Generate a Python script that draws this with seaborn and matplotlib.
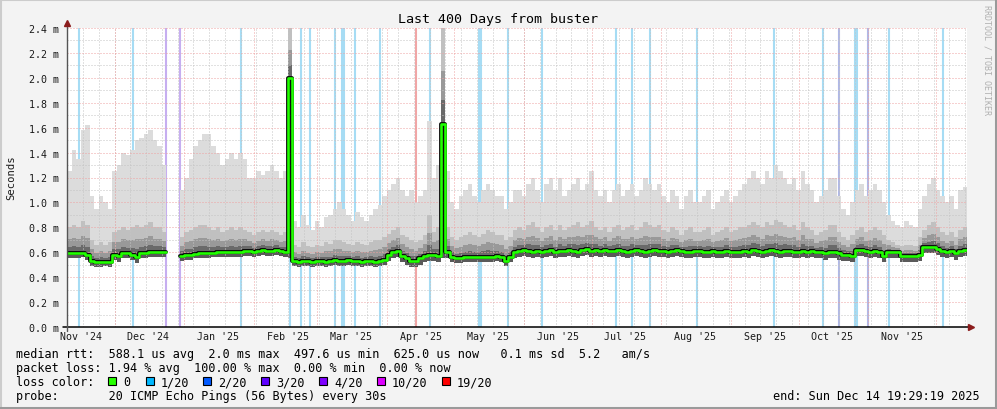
import numpy as np
import pandas as pd
import seaborn as sns
import matplotlib.pyplot as plt
from matplotlib.patches import Rectangle
from matplotlib.lines import Line2D

sns.set_theme(style="white")
plt.rcParams['font.family'] = ['DejaVu Sans Mono']

graph_start = pd.Timestamp('2024-11-09 19:29:19')
graph_end = pd.Timestamp('2025-12-14 19:29:19')

# one sample every 2 days from 2024-11-10, values in ms
nan = np.nan
median_ms = [
    0.59, 0.59, 0.59, 0.59, 0.58, 0.53, 0.52, 0.52, 0.52, 0.52,
    0.58, 0.57, 0.59, 0.59, 0.58, 0.56, 0.59, 0.59, 0.60, 0.60,
    0.60, 0.60, nan, nan, nan, 0.57, 0.58, 0.58, 0.585, 0.59,
    0.59, 0.59, 0.595, 0.60, 0.60, 0.60, 0.60, 0.60, 0.60, 0.61,
    0.61, 0.60, 0.61, 0.62, 0.61, 0.61, 0.62, 0.61, 0.60, 2.00,
    0.53, 0.52, 0.53, 0.53, 0.52, 0.53, 0.53, 0.52, 0.53, 0.54,
    0.53, 0.53, 0.54, 0.53, 0.53, 0.52, 0.53, 0.53, 0.52, 0.53,
    0.54, 0.58, 0.60, 0.61, 0.57, 0.55, 0.53, 0.53, 0.55, 0.57,
    0.58, 0.58, 0.57, 1.63, 0.60, 0.56, 0.55, 0.555, 0.56, 0.56,
    0.56, 0.56, 0.565, 0.56, 0.565, 0.57, 0.56, 0.53, 0.56, 0.60,
    0.61, 0.62, 0.61, 0.60, 0.61, 0.60, 0.61, 0.62, 0.60, 0.61,
    0.61, 0.62, 0.61, 0.60, 0.62, 0.63, 0.61, 0.62, 0.61, 0.62,
    0.61, 0.61, 0.62, 0.61, 0.60, 0.61, 0.62, 0.61, 0.60, 0.61,
    0.62, 0.61, 0.61, 0.60, 0.61, 0.62, 0.61, 0.60, 0.60, 0.61,
    0.61, 0.60, 0.60, 0.61, 0.60, 0.60, 0.61, 0.60, 0.60, 0.60,
    0.61, 0.60, 0.62, 0.61, 0.60, 0.61, 0.62, 0.61, 0.60, 0.61,
    0.61, 0.60, 0.60, 0.61, 0.60, 0.61, 0.60, 0.60, 0.59, 0.60,
    0.60, 0.59, 0.58, 0.58, 0.57, 0.62, 0.62, 0.61, 0.60, 0.61,
    0.60, 0.57, 0.60, 0.60, 0.60, 0.57, 0.57, 0.57, 0.57, 0.58,
    0.64, 0.64, 0.64, 0.63, 0.61, 0.60, 0.61, 0.59, 0.61, 0.62,
]
smoke_max_ms = [
    1.25, 1.42, 1.35, 1.58, 1.62, 1.05, 0.95, 1.05, 1.00, 0.95,
    1.25, 1.30, 1.40, 1.38, 1.42, 1.50, 1.52, 1.55, 1.58, 1.50,
    1.45, 1.30, nan, nan, nan, 1.10, 1.20, 1.35, 1.45, 1.50,
    1.55, 1.55, 1.45, 1.40, 1.30, 1.35, 1.40, 1.35, 1.40, 1.35,
    1.20, 1.20, 1.25, 1.22, 1.25, 1.30, 1.25, 1.20, 1.25, 2.40,
    0.85, 0.80, 0.90, 0.82, 0.78, 0.85, 0.80, 0.88, 0.90, 0.95,
    1.00, 0.95, 0.90, 0.85, 0.92, 0.88, 0.85, 0.90, 0.95, 0.98,
    1.05, 1.10, 1.15, 1.20, 1.10, 1.05, 1.10, 1.00, 1.05, 1.10,
    1.65, 1.20, 1.30, 2.40, 1.25, 1.00, 0.95, 1.05, 1.10, 1.15,
    1.05, 1.00, 1.10, 1.15, 1.10, 1.05, 1.05, 0.95, 1.00, 1.10,
    1.10, 1.05, 1.15, 1.20, 1.10, 1.00, 1.15, 1.20, 1.10, 1.20,
    1.05, 1.10, 1.15, 1.20, 1.10, 1.15, 1.25, 1.10, 1.05, 1.10,
    1.00, 1.10, 1.15, 1.05, 1.10, 1.15, 1.05, 1.10, 1.20, 1.15,
    1.10, 1.15, 1.05, 1.00, 1.10, 1.05, 0.95, 1.05, 1.10, 1.00,
    1.00, 1.05, 1.10, 0.95, 1.00, 1.05, 1.10, 1.00, 1.05, 1.10,
    1.15, 1.20, 1.25, 1.20, 1.15, 1.25, 1.20, 1.30, 1.25, 1.20,
    1.15, 1.20, 1.10, 1.25, 1.15, 1.10, 1.00, 1.05, 1.10, 1.20,
    1.20, 1.05, 0.95, 0.90, 1.00, 1.10, 1.15, 1.05, 1.10, 1.15,
    1.10, 1.00, 0.90, 0.85, 0.82, 0.80, 0.85, 0.82, 0.80, 0.95,
    1.05, 1.15, 1.20, 1.10, 1.05, 1.00, 1.05, 0.95, 1.10, 1.12,
]
smoke_mid_ms = [
    0.80, 0.82, 0.80, 0.85, 0.82, 0.70, 0.66, 0.68, 0.66, 0.68,
    0.76, 0.78, 0.80, 0.78, 0.80, 0.82, 0.80, 0.82, 0.84, 0.80,
    0.80, 0.76, nan, nan, nan, 0.72, 0.76, 0.78, 0.80, 0.82,
    0.82, 0.80, 0.78, 0.80, 0.76, 0.78, 0.80, 0.78, 0.80, 0.78,
    0.76, 0.74, 0.76, 0.78, 0.76, 0.78, 0.76, 0.74, 0.76, 2.40,
    0.66, 0.64, 0.68, 0.65, 0.64, 0.66, 0.65, 0.68, 0.67, 0.70,
    0.70, 0.68, 0.67, 0.66, 0.68, 0.67, 0.66, 0.68, 0.70, 0.70,
    0.72, 0.75, 0.78, 0.80, 0.74, 0.72, 0.70, 0.68, 0.70, 0.74,
    0.90, 0.76, 0.80, 2.40, 0.80, 0.72, 0.70, 0.72, 0.74, 0.76,
    0.74, 0.72, 0.75, 0.78, 0.76, 0.74, 0.74, 0.70, 0.72, 0.78,
    0.80, 0.78, 0.82, 0.84, 0.80, 0.76, 0.80, 0.82, 0.78, 0.82,
    0.78, 0.80, 0.82, 0.84, 0.80, 0.82, 0.85, 0.80, 0.78, 0.80,
    0.76, 0.80, 0.82, 0.78, 0.80, 0.82, 0.78, 0.80, 0.84, 0.82,
    0.80, 0.82, 0.78, 0.76, 0.80, 0.78, 0.74, 0.78, 0.80, 0.76,
    0.76, 0.78, 0.80, 0.74, 0.76, 0.78, 0.80, 0.76, 0.78, 0.80,
    0.80, 0.82, 0.84, 0.82, 0.80, 0.84, 0.82, 0.86, 0.84, 0.82,
    0.80, 0.82, 0.78, 0.84, 0.80, 0.78, 0.74, 0.76, 0.78, 0.82,
    0.82, 0.76, 0.72, 0.70, 0.74, 0.78, 0.80, 0.76, 0.78, 0.80,
    0.78, 0.74, 0.70, 0.68, 0.66, 0.65, 0.66, 0.66, 0.65, 0.72,
    0.78, 0.82, 0.84, 0.80, 0.76, 0.74, 0.76, 0.72, 0.78, 0.80,
]
smoke_min_ms = [
    0.55, 0.55, 0.55, 0.56, 0.54, 0.49, 0.48, 0.48, 0.49, 0.48,
    0.54, 0.52, 0.55, 0.55, 0.54, 0.51, 0.55, 0.55, 0.56, 0.56,
    0.56, 0.56, nan, nan, nan, 0.53, 0.54, 0.54, 0.55, 0.55,
    0.55, 0.55, 0.56, 0.56, 0.56, 0.56, 0.56, 0.56, 0.56, 0.57,
    0.57, 0.56, 0.57, 0.58, 0.57, 0.57, 0.58, 0.57, 0.56, 0.55,
    0.49, 0.48, 0.49, 0.49, 0.48, 0.49, 0.49, 0.48, 0.49, 0.50,
    0.49, 0.49, 0.50, 0.49, 0.49, 0.48, 0.49, 0.49, 0.48, 0.49,
    0.50, 0.53, 0.55, 0.56, 0.52, 0.50, 0.48, 0.48, 0.50, 0.52,
    0.53, 0.53, 0.52, 0.55, 0.55, 0.52, 0.51, 0.51, 0.52, 0.52,
    0.52, 0.52, 0.52, 0.52, 0.52, 0.53, 0.52, 0.49, 0.52, 0.55,
    0.56, 0.57, 0.56, 0.55, 0.56, 0.55, 0.56, 0.57, 0.55, 0.56,
    0.56, 0.57, 0.56, 0.55, 0.57, 0.58, 0.56, 0.57, 0.56, 0.57,
    0.56, 0.56, 0.57, 0.56, 0.55, 0.56, 0.57, 0.56, 0.55, 0.56,
    0.57, 0.56, 0.56, 0.55, 0.56, 0.57, 0.56, 0.55, 0.55, 0.56,
    0.56, 0.55, 0.55, 0.56, 0.55, 0.55, 0.56, 0.55, 0.55, 0.55,
    0.56, 0.55, 0.57, 0.56, 0.55, 0.56, 0.57, 0.56, 0.55, 0.56,
    0.56, 0.55, 0.55, 0.56, 0.55, 0.56, 0.55, 0.55, 0.54, 0.55,
    0.55, 0.54, 0.53, 0.53, 0.52, 0.57, 0.57, 0.56, 0.55, 0.56,
    0.55, 0.52, 0.55, 0.55, 0.55, 0.52, 0.52, 0.52, 0.52, 0.53,
    0.59, 0.59, 0.59, 0.58, 0.56, 0.55, 0.56, 0.54, 0.56, 0.57,
]

# packet loss events (vertical bars)
loss_dates = ['2024-11-15', '2024-12-09', '2024-12-24', '2024-12-30', '2025-01-26',
              '2025-02-17', '2025-02-22', '2025-02-26', '2025-03-09', '2025-03-12',
              '2025-03-13', '2025-03-18', '2025-03-29', '2025-04-14', '2025-04-20',
              '2025-05-12', '2025-05-13', '2025-05-25', '2025-06-09', '2025-07-12',
              '2025-07-19', '2025-07-27', '2025-08-17', '2025-09-20', '2025-10-12',
              '2025-10-19', '2025-10-26', '2025-10-27', '2025-11-01', '2025-11-10',
              '2025-12-04']
loss_level = ['1/20', '1/20', '4/20', '4/20', '1/20',
              '1/20', '1/20', '1/20', '1/20', '1/20',
              '1/20', '1/20', '1/20', '19/20', '1/20',
              '1/20', '1/20', '1/20', '1/20', '1/20',
              '1/20', '1/20', '1/20', '1/20', '1/20',
              '2/20', '1/20', '1/20', '2/20', '1/20',
              '1/20']
bar_colors = {'1/20': '#a6dcf4', '2/20': '#b0b8e6', '4/20': '#c6aef0', '19/20': '#f0a6a6'}

legend_labels = ['0', '1/20', '2/20', '3/20', '4/20', '10/20', '19/20']
legend_colors = ['#26ff00', '#00b8ff', '#0059ff', '#5e00ff', '#7e00ff', '#dd00ff', '#ff0000']

df = pd.DataFrame({
    'date': pd.date_range('2024-11-10', periods=len(median_ms), freq='2D'),
    'median': median_ms, 'smax': smoke_max_ms, 'smid': smoke_mid_ms, 'smin': smoke_min_ms,
})
df['seg'] = df['median'].isna().cumsum()

W, H = 997, 410
fig = plt.figure(figsize=(W / 100, H / 100), dpi=100, facecolor='#f3f3f3')
ax = fig.add_axes([67 / W, 82 / H, 900 / W, 299 / H])
ax.set_facecolor('white')
for s in ax.spines.values():
    s.set_visible(False)

# loss bars behind the smoke
ax.vlines(pd.to_datetime(loss_dates), 0, 2.4, colors=[bar_colors[l] for l in loss_level],
          lw=1.5, zorder=1)

# smoke
step = 2.0
ax.bar(df['date'], df['smax'] - df['smin'], bottom=df['smin'], width=step, align='edge',
       color='#dcdcdc', lw=0, antialiased=False, zorder=2)
ax.bar(df['date'], df['smid'] - df['smin'], bottom=df['smin'], width=step, align='edge',
       color='#c0c0c0', lw=0, antialiased=False, zorder=2.1)
for frac, a in [(0.55, 0.2), (0.25, 0.3)]:
    ax.bar(df['date'], (df['smid'] - df['median']) * frac, bottom=df['median'], width=step,
           align='edge', color='black', alpha=a, lw=0, antialiased=False, zorder=2.2)
ax.bar(df['date'], df['median'] - df['smin'], bottom=df['smin'], width=step, align='edge',
       color='#5a5a5a', lw=0, antialiased=False, zorder=2.3)

# grid on top of smoke
dots = (0, (1, 2))
weeks = pd.date_range('2024-11-10', graph_end, freq='7D')
months = pd.date_range('2024-12-01', graph_end, freq='MS')
ax.vlines(weeks, 0, 2.4, colors='#c4c4c4', lw=0.72, linestyles=dots, zorder=3)
ax.hlines(np.arange(0.1, 2.41, 0.2), graph_start, graph_end, colors='#c4c4c4', lw=0.72,
          linestyles=dots, zorder=3)
ax.vlines(months, 0, 2.4, colors='#eea2a2', lw=0.72, linestyles=dots, zorder=3.1)
ax.hlines(np.arange(0.2, 2.41, 0.2), graph_start, graph_end, colors='#eea2a2', lw=0.72,
          linestyles=dots, zorder=3.1)

# median line
med = df.dropna(subset=['median'])
tails = med.groupby('seg').tail(1).assign(date=lambda d: d['date'] + pd.Timedelta(days=step))
med = pd.concat([med, tails]).sort_values(['seg', 'date'])
sns.lineplot(data=med, x='date', y='median', units='seg', estimator=None, color='black',
             lw=2.7, drawstyle='steps-post', ax=ax, zorder=5, legend=False)
sns.lineplot(data=med, x='date', y='median', units='seg', estimator=None, color='#20ff00',
             lw=1.9, drawstyle='steps-post', ax=ax, zorder=6, legend=False)

ax.set_xlim(graph_start, graph_end)
ax.set_ylim(0, 2.4)
label_months = pd.date_range('2024-11-01', '2025-11-01', freq='MS')
ax.set_xticks(label_months + pd.Timedelta(days=15))
ax.set_xticklabels([d.strftime("%b '%y") for d in label_months])
yt = np.arange(0, 2.41, 0.2)
ax.set_yticks(yt)
ax.set_yticklabels([f'{v:.1f} m' for v in yt])
ax.tick_params(axis='x', length=0, labelsize=7.2, pad=3, colors='#1a1a1a')
ax.tick_params(axis='y', length=0, labelsize=7.2, pad=5.5, colors='#1a1a1a')
ax.set_xlabel('')
ax.set_ylabel('')

# axes with arrows
ax.plot([-4 / 900, 1 + 2 / 900], [0, 0], transform=ax.transAxes, color='black', lw=1.1,
        clip_on=False, zorder=8)
ax.plot([1 + 4 / 900], [0], marker='>', ms=5, color='#8b1c1c', transform=ax.transAxes,
        clip_on=False, zorder=9)
ax.plot([0, 0], [-4 / 299, 1 + 4 / 299], transform=ax.transAxes, color='#555555', lw=1.0,
        clip_on=False, zorder=8)
ax.plot([0], [1 + 5 / 299], marker='^', ms=5, color='#8b1c1c', transform=ax.transAxes,
        clip_on=False, zorder=9)

# texts
fig.text(498 / W, 1 - 19 / H, 'Last 400 Days from buster', ha='center', va='center',
         fontsize=9.6, color='black')
fig.text(11 / W, 1 - 178 / H, 'Seconds', rotation=90, ha='center', va='center',
         fontsize=7.6, color='#1a1a1a')
fig.text(987 / W, 1 - 60 / H, 'RRDTOOL / TOBI OETIKER', rotation=-90, ha='center',
         va='center', fontsize=6.0, color='#b0b0b0')

fs = 8.43
rows_y = [354.8, 368.8, 382.8, 396.5]
fig.text(16 / W, 1 - rows_y[0] / H,
         'median rtt:  588.1 us avg  2.0 ms max  497.6 us min  625.0 us now   0.1 ms sd  5.2   am/s',
         ha='left', va='center', fontsize=fs, color='black')
fig.text(16 / W, 1 - rows_y[1] / H,
         'packet loss: 1.94 % avg  100.00 % max  0.00 % min  0.00 % now',
         ha='left', va='center', fontsize=fs, color='black')
fig.text(16 / W, 1 - rows_y[2] / H, 'loss color:', ha='left', va='center', fontsize=fs,
         color='black')
sq_x = [108, 146, 203, 261, 319, 377, 442]
for x, lab, c in zip(sq_x, legend_labels, legend_colors):
    fig.add_artist(Rectangle((x / W, 1 - 386 / H), 8 / W, 8 / H, transform=fig.transFigure,
                             facecolor=c, edgecolor='black', lw=0.8))
    fig.text((x + 15) / W, 1 - rows_y[2] / H, lab, ha='left', va='center', fontsize=fs,
             color='black')
fig.text(16 / W, 1 - rows_y[3] / H, 'probe:       20 ICMP Echo Pings (56 Bytes) every 30s',
         ha='left', va='center', fontsize=fs, color='black')
fig.text(980 / W, 1 - rows_y[3] / H, 'end: Sun Dec 14 19:29:19 2025', ha='right',
         va='center', fontsize=fs, color='black')

# 3d-ish frame
fig.add_artist(Line2D([0, 1], [1 - 1 / H] * 2, transform=fig.transFigure, color='#cccccc', lw=1.5))
fig.add_artist(Line2D([1 / W] * 2, [0, 1], transform=fig.transFigure, color='#cccccc', lw=1.5))
fig.add_artist(Line2D([0, 1], [1.5 / H] * 2, transform=fig.transFigure, color='#9a9a9a', lw=2.2))
fig.add_artist(Line2D([1 - 1.5 / W] * 2, [0, 1], transform=fig.transFigure, color='#9a9a9a', lw=2.2))

fig.savefig('out.png', dpi=100, facecolor=fig.get_facecolor())
